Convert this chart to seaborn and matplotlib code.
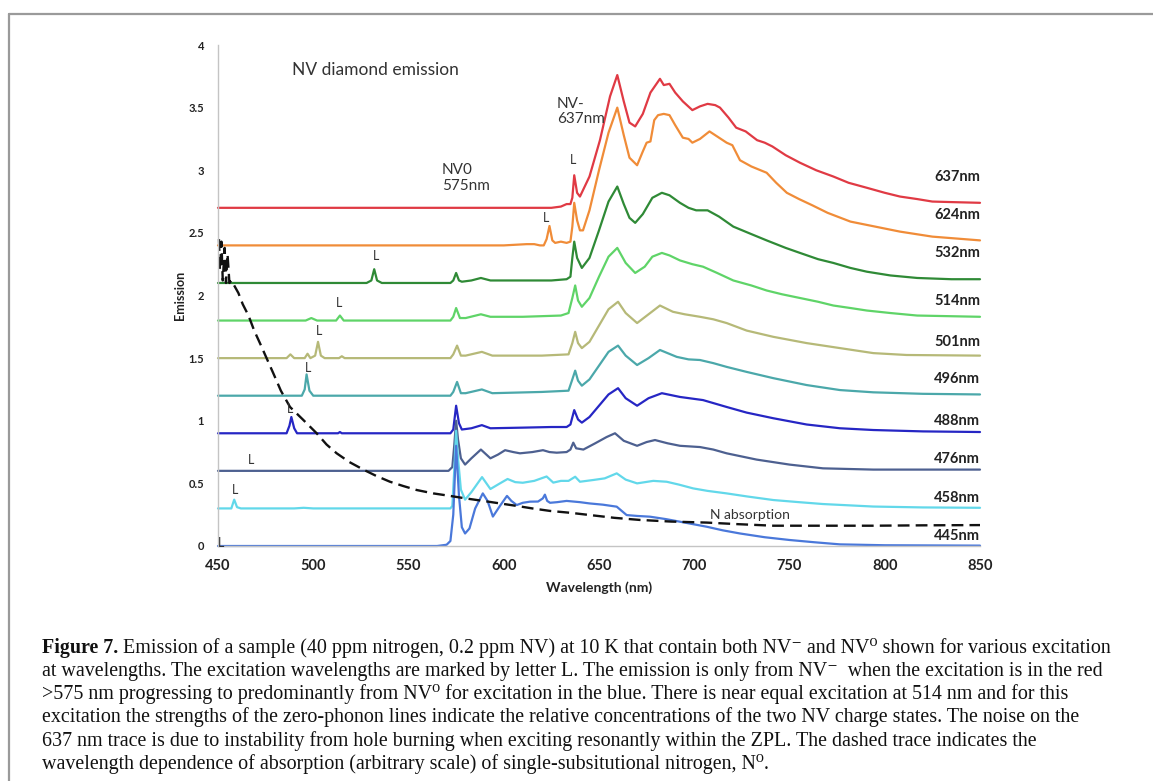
import matplotlib
matplotlib.use("Agg")
import matplotlib.pyplot as plt
import seaborn as sns
from matplotlib.lines import Line2D

# ---------------- data ----------------
wl_637 = [450, 600, 625, 630, 633, 635, 636, 637, 638.5, 640, 645, 650.5, 655.8, 659.6, 663, 666, 669, 673, 677,
          682, 684, 687, 690, 694, 699, 703, 707, 711, 713.5, 718, 722, 727, 733, 737, 741, 748, 755.5, 764, 773,
          781, 790.6, 800, 808, 817, 825, 837, 850]
em_637 = [2.70, 2.70, 2.70, 2.71, 2.73, 2.73, 2.78, 2.96, 2.82, 2.79, 2.95, 3.24, 3.59, 3.76, 3.55, 3.38, 3.35, 3.45,
          3.62, 3.73, 3.68, 3.69, 3.62, 3.55, 3.48, 3.51, 3.53, 3.52, 3.50, 3.42, 3.34, 3.31, 3.24, 3.22, 3.19, 3.12,
          3.06, 3.00, 2.95, 2.90, 2.86, 2.82, 2.79, 2.77, 2.75, 2.745, 2.74]

wl_624 = [450, 600, 612, 616, 619, 621, 622.5, 624, 625.5, 627, 630, 633, 635, 636, 637, 638.5, 640, 641.6, 645, 650,
          655, 659.6, 663, 666, 670, 673, 675, 677, 679, 681, 684, 687, 690, 694, 697, 699, 703, 708, 712, 717, 720,
          724, 730, 738, 743, 748.6, 755, 762, 770, 782, 795, 808, 825, 850]
em_624 = [2.40, 2.40, 2.41, 2.41, 2.40, 2.40, 2.45, 2.555, 2.44, 2.42, 2.43, 2.42, 2.43, 2.55, 2.74, 2.60, 2.52, 2.52,
          2.68, 3.00, 3.30, 3.50, 3.28, 3.10, 3.04, 3.15, 3.22, 3.23, 3.40, 3.44, 3.45, 3.44, 3.36, 3.26, 3.25, 3.22,
          3.25, 3.31, 3.27, 3.22, 3.20, 3.08, 3.03, 2.98, 2.90, 2.82, 2.77, 2.72, 2.66, 2.59, 2.55, 2.51, 2.47, 2.44]

wl_532 = [450, 528, 530.5, 532, 533.5, 536, 572, 573.5, 575, 576.5, 578, 583, 588, 593, 610, 625, 633, 635, 636, 637,
          638.5, 641, 645, 650, 655, 659.6, 663, 666, 669, 673, 678, 683, 687, 692.5, 697, 701, 707, 713, 720.5, 730,
          738, 748, 755.5, 765, 773, 782, 790.6, 803, 817, 835, 850]
em_532 = [2.10, 2.10, 2.12, 2.21, 2.12, 2.10, 2.10, 2.12, 2.18, 2.12, 2.11, 2.12, 2.14, 2.12, 2.12, 2.12, 2.13, 2.15,
          2.30, 2.43, 2.30, 2.22, 2.30, 2.52, 2.75, 2.87, 2.73, 2.62, 2.58, 2.65, 2.78, 2.82, 2.80, 2.74, 2.70, 2.68,
          2.68, 2.63, 2.55, 2.49, 2.44, 2.38, 2.34, 2.29, 2.26, 2.22, 2.19, 2.16, 2.14, 2.13, 2.13]

wl_514 = [450, 496, 499, 502, 512, 514, 516, 572, 573.5, 575, 577, 580, 588, 593, 610, 630, 634, 636, 637.5, 639, 641,
          645, 650, 655, 659.6, 664, 669, 674, 678, 683, 687, 692.5, 699, 704.6, 712, 720.5, 730, 738, 746, 755.5, 765,
          773, 782, 790.6, 803, 817, 850]
em_514 = [1.80, 1.80, 1.82, 1.80, 1.80, 1.84, 1.80, 1.80, 1.83, 1.90, 1.82, 1.82, 1.85, 1.83, 1.83, 1.84, 1.86, 1.98,
          2.08, 1.96, 1.91, 1.98, 2.15, 2.31, 2.38, 2.26, 2.18, 2.23, 2.31, 2.34, 2.32, 2.28, 2.25, 2.23, 2.18, 2.12,
          2.08, 2.04, 2.01, 1.98, 1.95, 1.92, 1.90, 1.88, 1.86, 1.84, 1.83]

wl_501 = [450, 486, 488, 490, 495.5, 497, 498.5, 501, 502.5, 504, 506, 513.5, 515, 516.5, 572, 573.5, 575.5, 577.5,
          580, 588.5, 594, 620, 634, 636, 637.5, 639, 641, 645, 650, 655, 660, 664, 670, 676, 682, 688.8, 695, 703,
          710, 717, 727.5, 741.5, 759, 776.5, 794, 811.5, 850]
em_501 = [1.50, 1.50, 1.53, 1.50, 1.50, 1.535, 1.50, 1.52, 1.63, 1.52, 1.50, 1.50, 1.515, 1.50, 1.50, 1.53, 1.60,
          1.52, 1.52, 1.55, 1.52, 1.52, 1.53, 1.62, 1.71, 1.62, 1.58, 1.63, 1.76, 1.89, 1.95, 1.86, 1.78, 1.85, 1.92,
          1.87, 1.85, 1.83, 1.81, 1.78, 1.72, 1.67, 1.62, 1.58, 1.54, 1.525, 1.52]

wl_496 = [450, 494, 495.5, 496.5, 498, 500, 572, 573.5, 575.5, 577.5, 580, 588.5, 594, 620, 634, 636, 637.5, 639, 641,
          645, 650, 655, 660, 664, 670, 676, 682, 686, 690.8, 697, 703, 710, 717, 727.5, 741.5, 759, 776.5, 794, 820,
          850]
em_496 = [1.20, 1.20, 1.25, 1.37, 1.24, 1.20, 1.20, 1.23, 1.31, 1.22, 1.22, 1.25, 1.22, 1.23, 1.24, 1.33, 1.40, 1.32,
          1.28, 1.33, 1.44, 1.55, 1.60, 1.52, 1.445, 1.50, 1.565, 1.54, 1.51, 1.49, 1.485, 1.46, 1.43, 1.39, 1.34,
          1.285, 1.245, 1.227, 1.215, 1.21]

wl_488 = [450, 486, 487.5, 488.5, 490, 491.5, 513, 514, 515, 572, 573.5, 575, 576.5, 578, 583, 588.5, 593, 610, 625,
          633, 635, 637, 639, 641, 645, 650, 655, 660, 664, 670, 676, 683, 692.5, 704.6, 717, 727.5, 741.5, 759, 776.5,
          794, 820, 850]
em_488 = [0.90, 0.90, 0.96, 1.03, 0.94, 0.90, 0.90, 0.91, 0.90, 0.90, 0.93, 1.12, 0.98, 0.93, 0.94, 0.965, 0.94, 0.945,
          0.95, 0.95, 0.97, 1.085, 1.01, 0.985, 1.03, 1.12, 1.21, 1.26, 1.18, 1.12, 1.18, 1.22, 1.19, 1.165, 1.11,
          1.065, 1.02, 0.97, 0.94, 0.926, 0.915, 0.91]

wl_476 = [450, 571, 573, 574, 575, 576, 577.5, 579.7, 583, 588, 593, 597, 600.7, 605, 608.5, 615, 620.6, 624, 627.8,
          633, 635, 636.5, 638, 641.8, 648, 654, 658.4, 663, 670, 675, 679.4, 686, 692.5, 703, 710, 717, 732.7, 750,
          767.6, 794, 850]
em_476 = [0.60, 0.60, 0.63, 0.80, 1.00, 0.85, 0.70, 0.65, 0.70, 0.77, 0.70, 0.73, 0.765, 0.75, 0.74, 0.75, 0.765, 0.75,
          0.745, 0.75, 0.77, 0.825, 0.78, 0.77, 0.82, 0.87, 0.90, 0.84, 0.80, 0.83, 0.846, 0.82, 0.80, 0.79, 0.77,
          0.74, 0.69, 0.65, 0.62, 0.61, 0.61]

wl_458 = [450, 457, 458.5, 460, 462, 490, 495, 500, 572, 573, 574, 575, 576, 577.5, 579.7, 583, 588.6, 593, 598, 602,
          606, 610, 616, 622.5, 626, 630, 634, 637.5, 640, 647, 653, 659.3, 664, 670, 678.5, 685.5, 692, 699.4, 707,
          717, 728, 741.5, 755, 767.6, 794, 820, 850]
em_458 = [0.30, 0.30, 0.37, 0.31, 0.30, 0.30, 0.305, 0.30, 0.30, 0.32, 0.60, 0.92, 0.70, 0.45, 0.37, 0.43, 0.55, 0.455,
          0.50, 0.535, 0.51, 0.505, 0.52, 0.555, 0.506, 0.52, 0.52, 0.553, 0.513, 0.527, 0.54, 0.58, 0.53, 0.50, 0.52,
          0.513, 0.49, 0.46, 0.44, 0.42, 0.395, 0.367, 0.35, 0.335, 0.315, 0.308, 0.305]

wl_445 = [450, 565, 570, 572, 573.5, 575, 576.5, 578, 579.7, 582, 585, 589, 591.5, 594.3, 598, 601.7, 604, 606.8, 610,
          613.8, 618, 620.5, 621.6, 622.8, 624.3, 628, 633, 640, 645, 652, 659.3, 664.5, 670, 676.8, 685, 692.5, 706.5,
          715, 724, 737, 750, 763, 776.5, 800, 850]
em_445 = [0.00, 0.00, 0.01, 0.04, 0.25, 0.80, 0.40, 0.15, 0.10, 0.14, 0.30, 0.42, 0.36, 0.235, 0.32, 0.40, 0.36, 0.327,
          0.345, 0.354, 0.355, 0.38, 0.41, 0.36, 0.345, 0.35, 0.36, 0.35, 0.34, 0.33, 0.314, 0.247, 0.24, 0.234, 0.215,
          0.194, 0.154, 0.125, 0.10, 0.07, 0.048, 0.03, 0.013, 0.006, 0.003]

wl_nabs = [450.5, 451, 451.8, 452.5, 453.5, 454.2, 455, 456, 457, 458.5, 460.7, 463, 466, 469, 472, 475.5, 479, 483,
           487.8, 494.8, 501.8, 507, 512.3, 519, 526.3, 533, 540.3, 547, 554.3, 563, 571.8, 580, 589.2, 598, 606.8,
           615, 624.3, 635, 645.3, 658, 671.5, 688, 706.5, 722, 741.5, 770, 794, 820, 850]
em_nabs = [2.45, 2.20, 2.43, 2.12, 2.38, 2.10, 2.33, 2.10, 2.12, 2.08, 2.02, 1.93, 1.84, 1.72, 1.62, 1.50, 1.38, 1.24,
           1.11, 1.006, 0.90, 0.81, 0.74, 0.67, 0.61, 0.56, 0.513, 0.48, 0.447, 0.42, 0.40, 0.38, 0.36, 0.34, 0.32,
           0.30, 0.28, 0.265, 0.247, 0.225, 0.208, 0.195, 0.187, 0.175, 0.162, 0.162, 0.162, 0.165, 0.167]

series_names = ["637nm", "624nm", "532nm", "514nm", "501nm", "496nm", "488nm", "476nm", "458nm", "445nm"]
series_wl = [wl_637, wl_624, wl_532, wl_514, wl_501, wl_496, wl_488, wl_476, wl_458, wl_445]
series_em = [em_637, em_624, em_532, em_514, em_501, em_496, em_488, em_476, em_458, em_445]
series_colors = ["#e03a44", "#f08c38", "#2f8a36", "#5fd468", "#b6b978", "#4ba8aa", "#2626c4", "#4d6090",
                 "#62d8ea", "#4a78da"]
x_ticks = [450, 500, 550, 600, 650, 700, 750, 800, 850]
y_ticks = [0, 0.5, 1, 1.5, 2, 2.5, 3, 3.5, 4]
y_tick_labels = ["0", "0.5", "1", "1.5", "2", "2.5", "3", "3.5", "4"]

# layout of annotations
label_y = [2.946, 2.643, 2.339, 1.958, 1.63, 1.333, 1.0, 0.695, 0.383, 0.08]
L_marks = [(636.4, 3.08), (622.2, 2.62), (532.9, 2.315), (513.5, 1.94), (503, 1.715), (497.2, 1.42),
           (487.8, 1.09), (467.3, 0.69), (458.9, 0.45), (451.6, 0.02)]

# ---------------- styling ----------------
sns.set_theme(style="white")
plt.rcParams['font.family'] = ['Lato', 'DejaVu Sans']

W, H = 1153, 781
fig = plt.figure(figsize=(W / 100, H / 100), dpi=100)
fig.patch.set_facecolor("white")
ax = fig.add_axes([218 / W, 1 - 546 / H, (980 - 218) / W, (546 - 45) / H])

for name, wl, em, c in zip(series_names, series_wl, series_em, series_colors):
    sns.lineplot(x=wl, y=em, ax=ax, color=c, lw=1.6, sort=False, estimator=None, legend=False)
sns.lineplot(x=wl_nabs, y=em_nabs, ax=ax, color="#111111", lw=1.7, sort=False, estimator=None, legend=False,
             linestyle=(0, (5, 2.6)))
for line in ax.lines:
    line.set_clip_on(False)

ax.set_xlim(450, 850)
ax.set_ylim(0, 4)
ax.set_xticks(x_ticks)
ax.set_xticklabels([str(t) for t in x_ticks], fontsize=10.5, fontweight="bold", color="#222222")
ax.set_yticks(y_ticks)
ax.set_yticklabels(y_tick_labels, fontsize=8, fontweight="bold", color="#222222")
ax.tick_params(axis="both", which="both", direction="out", length=4, width=0.9, color="#bbbbbb")
ax.tick_params(axis="x", pad=5)
ax.tick_params(axis="y", pad=6)
sns.despine(ax=ax)
for s in ("left", "bottom"):
    ax.spines[s].set_color("#c4c4c4")
    ax.spines[s].set_linewidth(1.0)
ax.set_xlabel("Wavelength (nm)", fontsize=10, fontweight="bold", color="#222222", labelpad=6)
ax.set_ylabel("Emission", fontsize=9, fontweight="bold", color="#222222", labelpad=2)

# series labels
for name, ly in zip(series_names, label_y):
    ax.text(850, ly, name, ha="right", va="center", fontsize=10.5, fontweight="bold", color="#222222")
for (lx, lyy) in L_marks:
    ax.text(lx, lyy, "L", ha="center", va="center", fontsize=9, color="#333333")

ax.text(488.8, 3.80, "NV diamond emission", ha="left", va="center", fontsize=12.5, color="#333333")
ax.text(628, 3.47, "NV-\n637nm", ha="left", va="center", fontsize=11, color="#333333", linespacing=1.15)
ax.text(567.6, 2.94, "NV0\n575nm", ha="left", va="center", fontsize=11, color="#333333", linespacing=1.15)
ax.text(708.3, 0.25, "N absorption", ha="left", va="center", fontsize=10, color="#333333")

# frame
fig.add_artist(Line2D([8.5 / W, 8.5 / W], [0, 1 - 13.5 / H], color="#9a9a9a", lw=1.6))
fig.add_artist(Line2D([8.5 / W, 1], [1 - 13.5 / H, 1 - 13.5 / H], color="#9a9a9a", lw=1.6))

# caption
cap_lines = [
    "Emission of a sample (40 ppm nitrogen, 0.2 ppm NV) at 10 K that contain both NV\u207b and NV\u2070 shown for various excitation",
    "at wavelengths. The excitation wavelengths are marked by letter L. The emission is only from NV\u207b  when the excitation is in the red",
    ">575 nm progressing to predominantly from NV\u2070 for excitation in the blue. There is near equal excitation at 514 nm and for this",
    "excitation the strengths of the zero-phonon lines indicate the relative concentrations of the two NV charge states. The noise on the",
    "637 nm trace is due to instability from hole burning when exciting resonantly within the ZPL. The dashed trace indicates the",
    "wavelength dependence of absorption (arbitrary scale) of single-subsitutional nitrogen, N\u2070.",
]
cap_base = [653, 676, 699, 722, 746, 769]
serif = ["Liberation Serif", "DejaVu Serif"]
fs = 13.0
fig.canvas.draw()
r = fig.canvas.get_renderer()
t0 = fig.text(42 / W, 1 - cap_base[0] / H, "Figure 7.", fontsize=fs, fontweight="bold", family=serif,
              va="baseline", ha="left", color="#111111")
t1 = fig.text(0, 0, " " + cap_lines[0], fontsize=fs, family=serif, va="baseline", ha="left", color="#111111")
for _ in range(3):
    w_total = t0.get_window_extent(r).width + t1.get_window_extent(r).width
    fs = fs * (1112 - 42) / w_total
    t0.set_fontsize(fs)
    t1.set_fontsize(fs)
wb = t0.get_window_extent(r).width
t1.set_position(((42 + wb) / W, 1 - cap_base[0] / H))
for txt, yb in zip(cap_lines[1:], cap_base[1:]):
    fig.text(42 / W, 1 - yb / H, txt, fontsize=fs, family=serif, va="baseline", ha="left", color="#111111")

fig.savefig("out.png", dpi=100, facecolor="white")
